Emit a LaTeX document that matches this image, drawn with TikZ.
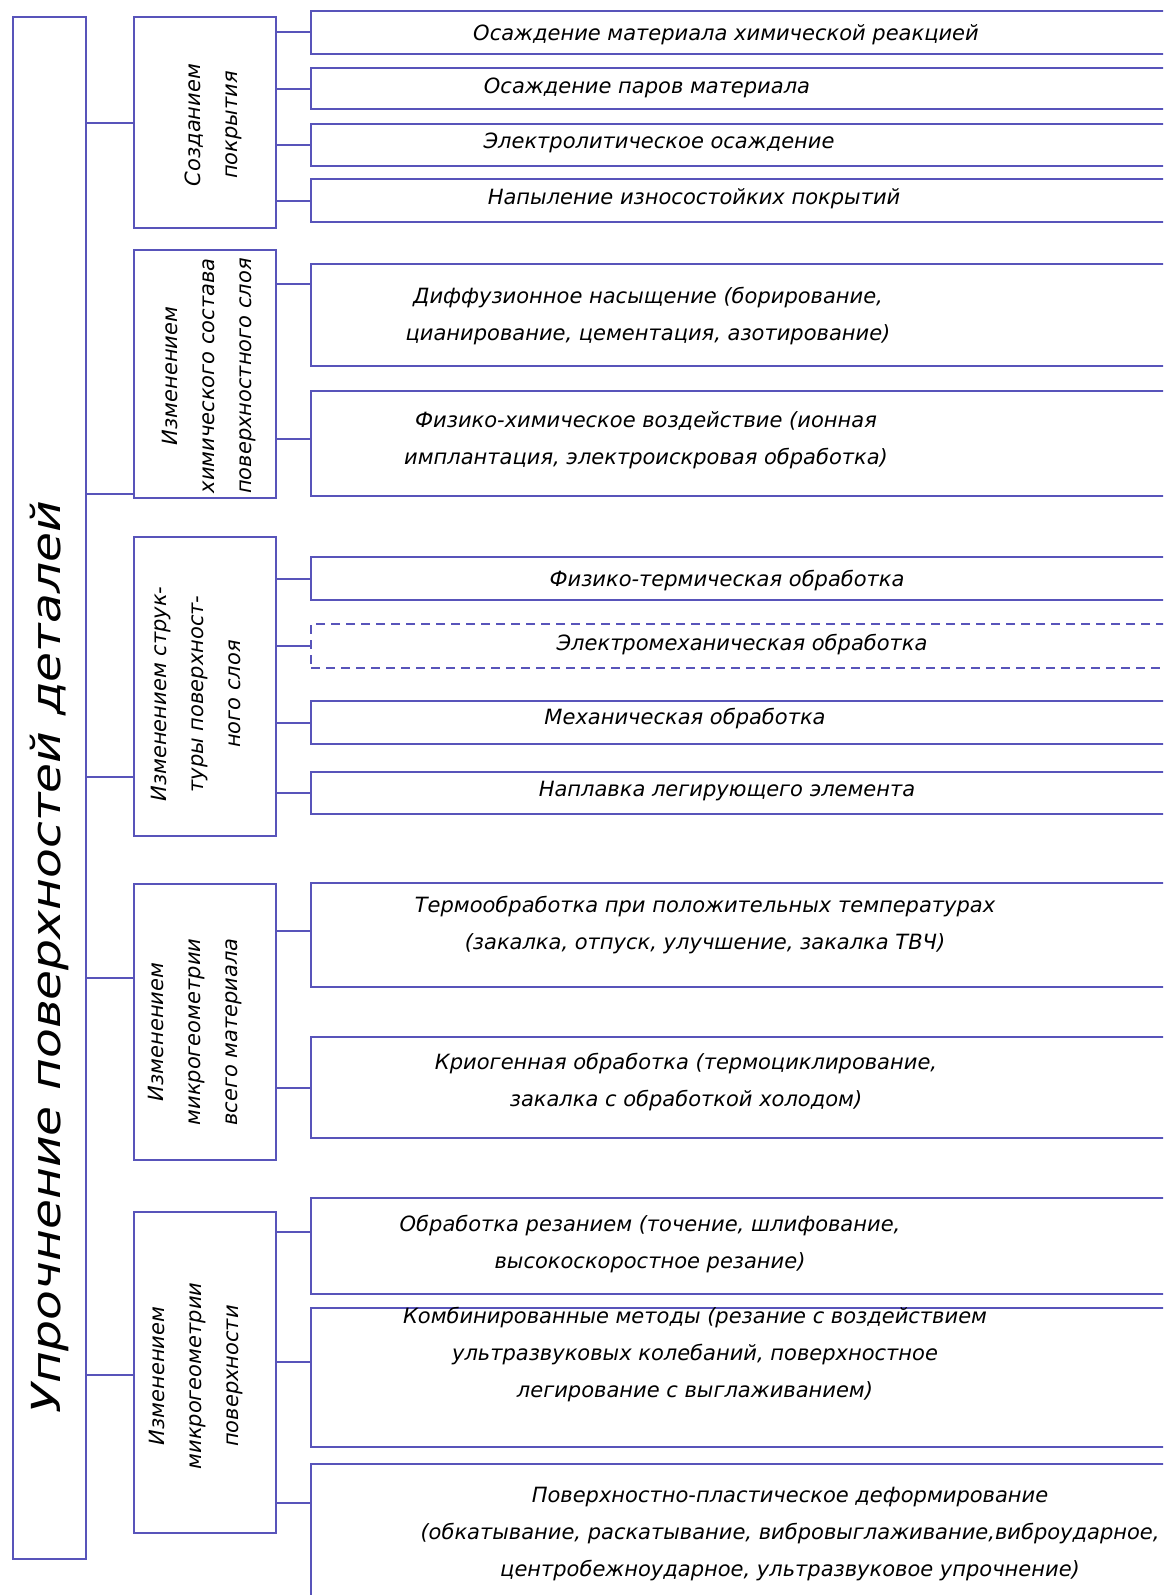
\documentclass[tikz,border=0pt]{standalone}
\usepackage{fontspec}
\setmainfont{DejaVu Sans}
\definecolor{frame}{RGB}{88,84,186}

\begin{document}
\begin{tikzpicture}[x=1pt,y=-1pt]

\tikzstyle frm=[draw=frame, line width=2pt, rectangle, inner sep=0pt, anchor=north west]
\tikzstyle catbox=[frm, minimum width=142pt]
\tikzstyle subbox=[frm, minimum width=870pt]
\tikzstyle conn=[draw=frame, line width=2pt]
\tikzstyle txt=[align=center, inner sep=0pt, font=\itshape\fontsize{21}{37}\selectfont]
\tikzstyle cattxt=[txt, rotate=90, font=\itshape\fontsize{21}{37}\selectfont]

\useasboundingbox (0,0) rectangle (1163,1595);
\clip (0,0) rectangle (1163,1595);
\fill[white] (0,0) rectangle (1163,1595);

\node (main) [frm, minimum width=73pt, minimum height=1542pt] at (12,16) {};

\node (cat1) [catbox, minimum height=211pt] at (133,16)   {};
\node (cat2) [catbox, minimum height=248pt] at (133,249)  {};
\node (cat3) [catbox, minimum height=299pt] at (133,536)  {};
\node (cat4) [catbox, minimum height=276pt] at (133,883)  {};
\node (cat5) [catbox, minimum height=321pt] at (133,1211) {};

\node (s1)  [subbox, minimum height=43pt]  at (310,10)   {};
\node (s2)  [subbox, minimum height=41pt]  at (310,67)   {};
\node (s3)  [subbox, minimum height=42pt]  at (310,123)  {};
\node (s4)  [subbox, minimum height=43pt]  at (310,178)  {};
\node (s5)  [subbox, minimum height=102pt] at (310,263)  {};
\node (s6)  [subbox, minimum height=105pt] at (310,390)  {};
\node (s7)  [subbox, minimum height=43pt]  at (310,556)  {};
\node (s8)  [subbox, minimum height=44pt, dash pattern=on 9pt off 6pt] at (310,623) {};
\node (s9)  [subbox, minimum height=43pt]  at (310,700)  {};
\node (s10) [subbox, minimum height=42pt]  at (310,771)  {};
\node (s11) [subbox, minimum height=104pt] at (310,882)  {};
\node (s12) [subbox, minimum height=101pt] at (310,1036) {};
\node (s13) [subbox, minimum height=96pt]  at (310,1197) {};
\node (s14) [subbox, minimum height=139pt] at (310,1307) {};
\node (s15) [subbox, minimum height=160pt] at (310,1463) {};

% texts
\node (tmain) [cattxt, font=\itshape\fontsize{40}{48}\selectfont] at (49,957) {\scalebox{1.22}[1]{Упрочнение поверхностей деталей}};

\node (tc1) [cattxt] at (213,125)  {Созданием\\покрытия};
\node (tc2) [cattxt] at (209,376)  {Изменением\\химического состава\\поверхностного слоя};
\node (tc3) [cattxt] at (196,694)  {Изменением струк-\\туры поверхност-\\ного слоя};
\node (tc4) [cattxt] at (195,1032) {Изменением\\микрогеометрии\\всего материала};
\node (tc5) [cattxt] at (196,1376) {Изменением\\микрогеометрии\\поверхности};

\node (t1)  [txt] at (726,35)   {Осаждение материала химической реакцией};
\node (t2)  [txt] at (647,88)   {Осаждение паров материала};
\node (t3)  [txt] at (659,143)  {Электролитическое осаждение};
\node (t4)  [txt] at (694,199)  {Напыление износостойких покрытий};
\node (t5)  [txt] at (648,316)  {Диффузионное насыщение (борирование,\\цианирование, цементация, азотирование)};
\node (t6)  [txt] at (646,440)  {Физико-химическое воздействие (ионная\\имплантация, электроискровая обработка)};
\node (t7)  [txt] at (727,581)  {Физико-термическая обработка};
\node (t8)  [txt] at (742,645)  {Электромеханическая обработка};
\node (t9)  [txt] at (685,719)  {Механическая обработка};
\node (t10) [txt] at (727,791)  {Наплавка легирующего элемента};
\node (t11) [txt] at (705,925)  {Термообработка при положительных температурах\\(закалка, отпуск, улучшение, закалка ТВЧ)};
\node (t12) [txt] at (686,1082) {Криогенная обработка (термоциклирование,\\закалка с обработкой холодом)};
\node (t13) [txt] at (650,1244) {Обработка резанием (точение, шлифование,\\высокоскоростное резание)};
\node (t14) [txt] at (695,1355) {Комбинированные методы (резание с воздействием\\ультразвуковых колебаний, поверхностное\\легирование с выглаживанием)};
\node (t15) [txt] at (790,1534) {Поверхностно-пластическое деформирование\\(обкатывание, раскатывание, вибровыглаживание,виброударное,\\центробежноударное, ультразвуковое упрочнение)};

% connectors
\foreach \c/\d in {cat1/0, cat2/-120, cat3/-90.5, cat4/44, cat5/-2.5}
{
\coordinate (k) at ([yshift=\d pt]\c.west);
\draw [conn] (main.east |- k) -- (k);
}

\foreach \s/\c/\d in {s1/cat1/0, s2/cat1/0, s3/cat1/0, s4/cat1/0, s5/cat2/31, s6/cat2/4.5, s7/cat3/0, s8/cat3/0, s9/cat3/0, s10/cat3/0, s11/cat4/4, s12/cat4/0, s13/cat5/14, s14/cat5/15.5, s15/cat5/41}
{
\coordinate (k) at ([yshift=\d pt]\s.west);
\draw [conn] (\c.east |- k) -- (k);
}

\end{tikzpicture}
\end{document}
